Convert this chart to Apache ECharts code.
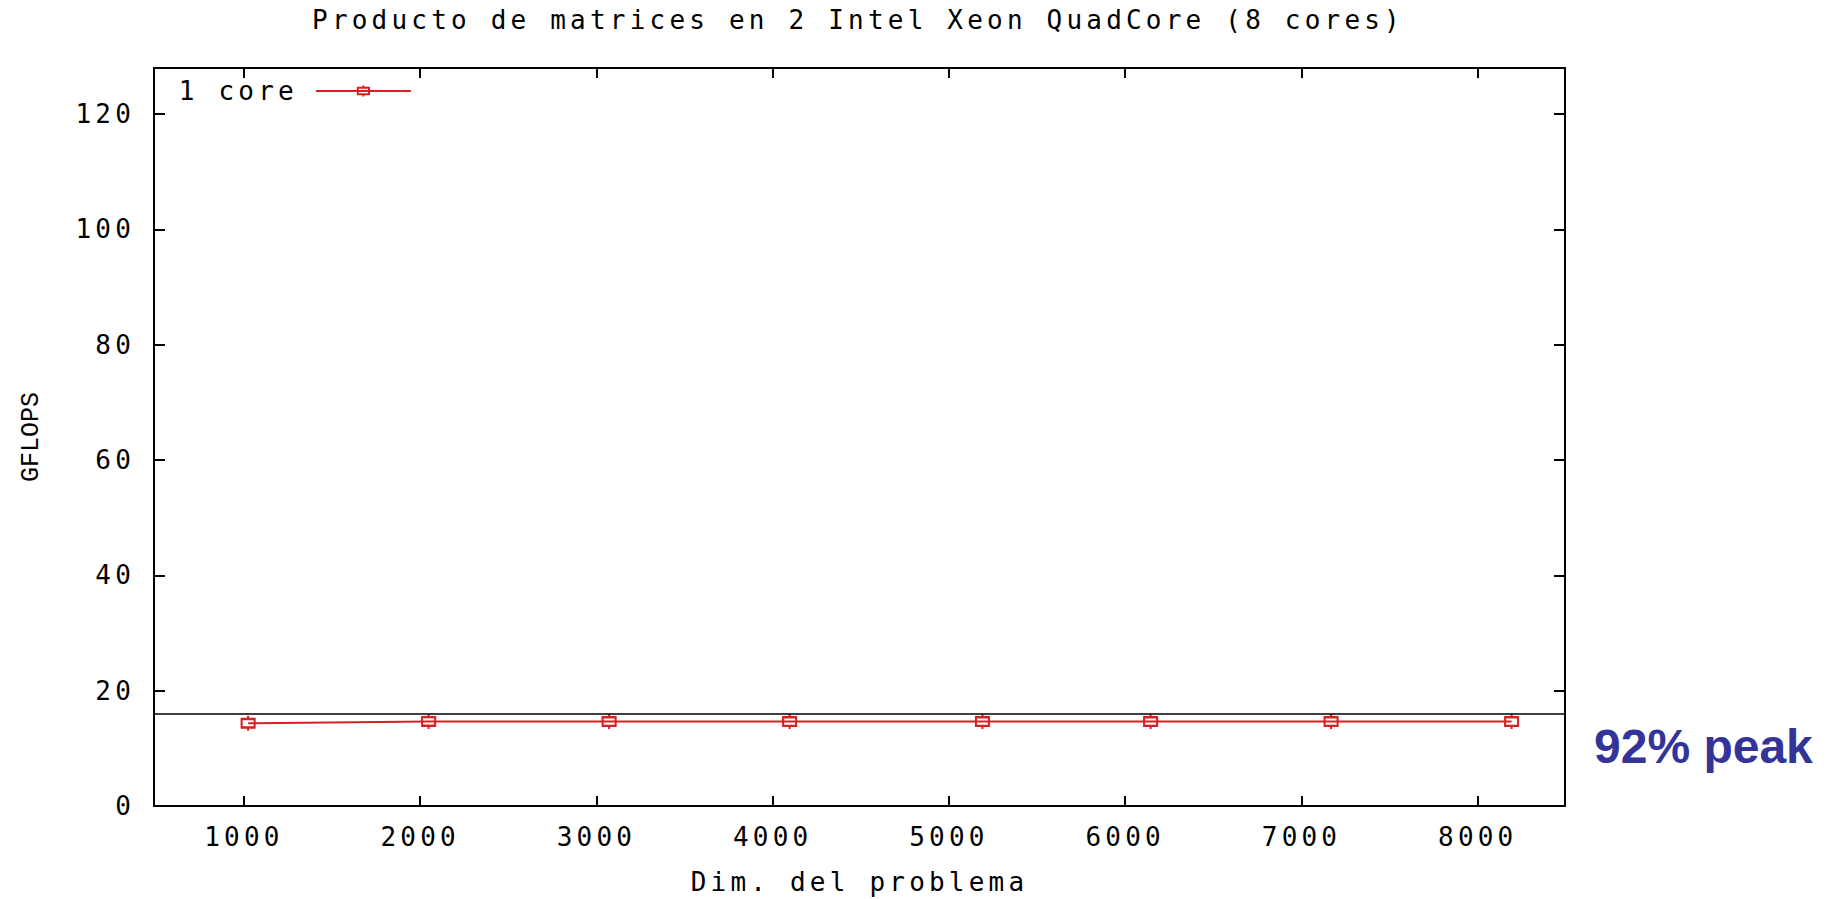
<!DOCTYPE html>
<html>
<head>
<meta charset="utf-8">
<script src="https://cdn.jsdelivr.net/npm/echarts@6/dist/echarts.min.js"></script>
<style>
html, body { margin: 0; padding: 0; background: #fff; }
#chart { width: 1834px; height: 899px; }
#chart text { letter-spacing: 4.2px; }
#chart text[style*="bold"], #chart text[style*="Liberation Mono"] { letter-spacing: 0; }
</style>
</head>
<body>
<div id="chart"></div>
<script>
const chartTitle = 'Producto de matrices en 2 Intel Xeon QuadCore (8 cores)';
const xAxisName = 'Dim. del problema';
const yAxisName = 'GFLOPS';
const seriesName = '1 core';
const problemSizes = [1024, 2048, 3072, 4096, 5190, 6144, 7168, 8192];
const gflops1Core = [14.35, 14.67, 14.65, 14.65, 14.65, 14.65, 14.65, 14.65];
const peakGflops = 16;
const peakLabel = '92% peak';
const xTickLabels = [1000, 2000, 3000, 4000, 5000, 6000, 7000, 8000];
const yTickLabels = [0, 20, 40, 60, 80, 100, 120];
const xMin = 490, xMax = 8495;
const yMin = 0, yMax = 128, yStep = 20;

const monoFont = 'DejaVu Sans Mono';
const monoSize = 26;
const red = '#d42222';
const markerPath = 'path://M0,3L12,3L12,11L0,11Z M6,0L6,3 M6,11L6,14';

const chart = echarts.init(document.getElementById('chart'), null, { renderer: 'svg' });

function xAxisCfg(pos, showLabels) {
  return {
    type: 'value', position: pos, min: xMin, max: xMax, splitNumber: 8,
    axisLine: { show: true, onZero: false, lineStyle: { color: '#000', width: 2 } },
    axisTick: { show: true, inside: true, length: 10, lineStyle: { color: '#000', width: 2 } },
    axisLabel: {
      show: showLabels, margin: 18, fontFamily: monoFont, fontSize: monoSize, color: '#000',
      formatter: v => xTickLabels.includes(v) ? String(v) : ''
    },
    splitLine: { show: false },
    name: showLabels ? xAxisName : '',
    nameLocation: 'middle', nameGap: 63, nameMoveOverlap: false,
    nameTextStyle: { fontFamily: monoFont, fontSize: monoSize, color: '#000' }
  };
}
function yAxisCfg(pos, showLabels) {
  return {
    type: 'value', position: pos, min: yMin, max: yMax, interval: yStep,
    axisLine: { show: true, onZero: false, lineStyle: { color: '#000', width: 2 } },
    axisTick: { show: true, inside: true, length: 11, lineStyle: { color: '#000', width: 2 } },
    axisLabel: {
      show: showLabels, margin: 19, fontFamily: monoFont, fontSize: monoSize, color: '#000',
      formatter: v => yTickLabels.includes(v) ? String(v) : ''
    },
    splitLine: { show: false },
    name: showLabels ? yAxisName : '',
    nameLocation: 'middle', nameGap: 110, nameMoveOverlap: false,
    nameTextStyle: { fontFamily: 'Liberation Mono', fontSize: 25, color: '#000' }
  };
}

chart.setOption({
  animation: false,
  backgroundColor: '#fff',
  title: {
    text: chartTitle, left: 858, top: 7, textAlign: 'center', padding: 0,
    textStyle: { fontFamily: monoFont, fontSize: monoSize, fontWeight: 'normal', color: '#000' }
  },
  legend: {
    left: 204, top: 78, padding: 0, align: 'right',
    itemWidth: 95, itemHeight: 14,
    textStyle: { fontFamily: monoFont, fontSize: monoSize, color: '#000', padding: [0, 13, 0, 0] },
    data: [seriesName]
  },
  grid: { left: 154, right: 269, top: 68, bottom: 93, outerBoundsMode: 'none', containLabel: false },
  xAxis: [xAxisCfg('bottom', true), xAxisCfg('top', false)],
  yAxis: [yAxisCfg('left', true), yAxisCfg('right', false)],
  graphic: [{
    type: 'text', x: 1594, y: 746,
    style: { text: peakLabel, font: 'bold 48px "Liberation Sans", Arial, sans-serif', fill: '#333399', verticalAlign: 'middle' }
  }],
  series: [{
    type: 'line', name: seriesName, xAxisIndex: 0, yAxisIndex: 0,
    data: problemSizes.map((x, i) => [x, gflops1Core[i]]),
    symbol: markerPath, symbolSize: [13, 15], showSymbol: true,
    itemStyle: { color: 'rgba(0,0,0,0)', borderColor: red, borderWidth: 2.2 },
    lineStyle: { color: red, width: 2 },
    emphasis: { disabled: true },
    markLine: {
      silent: true, symbol: ['none', 'none'], label: { show: false },
      lineStyle: { color: '#000', width: 1.6, type: 'solid' },
      emphasis: { disabled: true },
      data: [{ yAxis: peakGflops }]
    }
  }]
});
</script>
</body>
</html>
